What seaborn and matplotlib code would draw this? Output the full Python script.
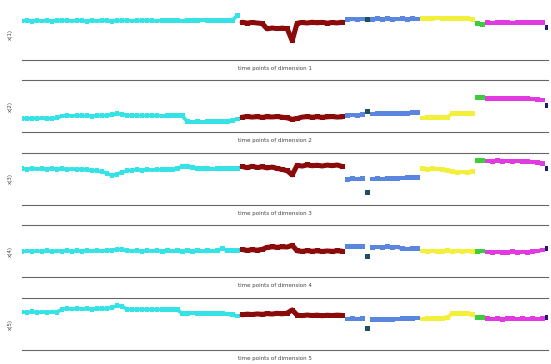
import numpy as np
import pandas as pd
import matplotlib
matplotlib.use("Agg")
import matplotlib.pyplot as plt
import seaborn as sns

# segment of every time point (same split for all five dimensions)
seg_names = ["cyan"] * 44 + ["darkred"] * 21 + ["blue1"] * 4 + ["teal"] + ["blue2"] * 10 \
    + ["yellow"] * 11 + ["green"] * 2 + ["magenta"] * 12 + ["navy"]
seg_colors = {
    "cyan": "#35e3e6", "darkred": "#8b0a0a", "blue1": "#5a86e0", "teal": "#1f4f5a",
    "blue2": "#5a86e0", "yellow": "#f2f03a", "green": "#3ccc3c", "magenta": "#e03ae0",
    "navy": "#1c1a7a",
}

dim1 = [39.0, 39.6, 38.8, 39.4, 39.1, 39.7, 38.9, 39.5, 39.2, 39.6,
        39.0, 39.8, 39.3, 38.9, 39.6, 39.1, 39.7, 39.2, 38.8, 39.5,
        39.3, 39.9, 39.0, 39.6, 39.2, 39.8, 39.4, 39.0, 39.7, 39.3,
        39.9, 39.4, 39.1, 39.8, 39.5, 39.2, 40.0, 39.6, 39.3, 39.9,
        39.5, 39.8, 39.4, 44.5,
        37.8, 36.9, 37.6, 37.0, 36.5, 31.2, 32.0, 31.4, 31.9, 31.3,
        19.5, 36.8, 37.6, 37.0, 37.8, 37.2, 37.7, 36.9, 37.5, 37.1, 37.8,
        40.3, 41.0, 40.5, 41.1,
        40.8,
        40.6, 41.2, 40.8, 41.3, 40.9, 41.0, 41.4, 40.7, 41.2, 41.0,
        41.4, 41.9, 41.5, 42.0, 41.6, 41.8, 41.3, 41.9, 41.6, 41.2, 40.6,
        36.3, 35.8,
        37.6, 37.1, 37.8, 37.3, 37.5, 37.0, 37.7, 37.4, 37.8, 37.2, 37.6, 37.3,
        32.7]

dim2 = [14.2, 13.7, 14.3, 13.9, 14.4, 13.8, 14.1, 14.6,
        16.4, 16.9, 16.5, 17.0, 16.6, 16.8, 16.3, 16.9, 16.7, 17.1, 17.6,
        18.7, 18.2,
        17.2, 16.8, 17.0, 16.6, 17.1, 16.7, 16.9, 16.5, 17.0, 16.8, 16.6, 16.9,
        11.0, 10.5, 10.9, 10.4, 10.8, 10.6, 11.0, 10.7, 11.2, 11.8, 13.5,
        15.3, 15.9, 15.4, 15.8, 15.2, 15.7, 15.5, 15.9, 15.3, 14.6, 13.2,
        14.0, 15.4, 15.8, 15.3, 15.7, 15.2, 15.6, 15.9, 15.4, 15.7,
        17.0, 17.5, 17.2, 17.6,
        21.0,
        18.5, 18.9, 18.6, 19.0, 18.7, 19.1, 18.8, 19.3, 19.8, 20.2,
        14.5, 14.9, 14.6, 15.0, 14.7, 15.3, 18.8, 19.2, 18.9, 19.3, 19.0,
        34.7, 34.9,
        34.2, 33.8, 34.3, 33.9, 34.1, 33.7, 34.0, 33.6, 33.9, 33.4, 33.0, 32.4,
        26.7]

dim3 = [36.3, 35.7, 36.5, 35.9, 36.2, 35.6, 36.4, 35.8, 36.1, 35.5,
        35.9, 35.4, 35.7, 35.0, 34.6, 34.0,
        33.2, 31.5, 29.5, 30.8, 32.6,
        34.2, 34.8, 35.2, 34.7, 35.3, 34.9, 35.4, 35.0, 35.5, 35.8, 36.6,
        38.0, 38.3, 37.5,
        36.4, 36.0, 36.6, 35.9, 36.5, 36.1, 36.7, 36.2, 36.8,
        38.3, 37.2, 38.6, 37.4, 38.1, 37.0, 37.8,
        36.5, 35.4, 34.2, 30.0,
        39.6, 38.8, 40.0, 39.1, 39.7, 38.9, 39.8, 39.2, 39.9, 38.4,
        25.8, 26.3, 25.9, 26.2,
        12.7,
        25.9, 26.3, 26.0, 26.4, 26.1, 26.6, 26.9, 27.4, 27.8, 27.3,
        36.2, 35.8, 36.4, 35.9, 35.6, 34.6, 33.0, 32.6, 32.9, 32.5, 33.2,
        44.3, 44.0,
        43.9, 43.5, 44.0, 43.6, 43.9, 43.4, 43.8, 43.3, 43.6, 42.9, 42.3, 41.2,
        36.0]

dim4 = [26.0, 26.4, 25.9, 26.3, 26.1, 26.5, 26.0, 26.4, 26.2, 26.6,
        26.1, 26.5, 26.2, 26.7, 26.3, 26.6, 26.4, 26.8, 27.2,
        27.9, 27.5, 26.8,
        26.4, 26.7, 26.2, 26.6, 26.3, 26.7, 26.2, 26.5, 26.3, 26.6, 26.1,
        26.5, 26.2, 26.6, 26.3, 26.7, 26.4, 26.8, 28.6, 26.9, 26.5, 27.0,
        27.8, 27.0, 27.6, 27.2, 27.9,
        30.0, 30.5, 30.1, 30.6, 30.3,
        32.0,
        26.5, 26.0, 26.6, 26.1, 26.5, 25.9, 26.4, 26.0, 26.5, 26.2,
        30.7, 31.1, 30.8, 31.0,
        20.8,
        30.0, 30.4, 30.1, 30.5, 30.2, 30.3, 28.7, 28.4, 28.8, 28.5,
        26.4, 26.0, 26.3, 25.9, 26.2, 26.5, 26.1, 26.4, 26.0, 26.3, 26.2,
        26.2, 26.4,
        25.4, 25.0, 25.3, 24.9, 25.2, 25.5, 25.1, 25.4, 25.0, 25.6, 26.3, 27.4,
        28.5]

dim5 = [38.2, 37.8, 38.3, 37.9, 38.1, 37.7, 38.2, 38.0,
        41.0, 41.5, 41.1, 41.6, 41.2, 41.4, 41.0, 41.6, 41.3, 41.7, 42.6,
        44.6, 43.8,
        40.9, 40.5, 41.0, 40.6, 40.9, 40.4, 40.8, 40.5, 40.9, 40.6, 40.3,
        37.0, 36.6, 37.1, 36.7, 36.9, 36.5, 37.0, 36.6, 36.8, 36.2, 35.4, 34.2,
        35.3, 36.0, 35.6, 36.2, 35.8, 36.5, 36.1, 36.8, 36.3, 37.0,
        40.2,
        35.0, 34.5, 35.1, 34.6, 35.0, 34.4, 34.9, 34.6, 35.0, 34.7,
        31.1, 31.5, 31.2, 31.4,
        21.3,
        30.5, 30.9, 30.6, 31.0, 30.7, 31.1, 31.3, 31.6, 31.9, 32.2,
        31.2, 31.6, 31.3, 31.7, 31.4, 32.5, 36.5, 36.9, 36.6, 37.0, 35.8,
        32.3, 32.6,
        31.5, 31.1, 31.4, 31.0, 31.3, 31.6, 31.2, 31.5, 31.1, 31.4, 31.2, 31.6,
        32.3]

dims = [dim1, dim2, dim3, dim4, dim5]
y_names = ["x(1)", "x(2)", "x(3)", "x(4)", "x(5)"]

sns.set_style("white")
plt.rcParams["font.family"] = ["DejaVu Sans"]

fig = plt.figure(figsize=(5.51, 3.64), dpi=100)
bottoms = [0.835, 0.636, 0.437, 0.238, 0.038]

for k, vals in enumerate(dims):
    ax = fig.add_axes([0.040, bottoms[k], 0.955, 0.143])
    df = pd.DataFrame({"t": np.arange(len(vals)), "value": vals, "seg": seg_names})
    sns.lineplot(data=df, x="t", y="value", hue="seg", palette=seg_colors,
                 estimator=None, linewidth=2.6, legend=False, ax=ax)
    sns.scatterplot(data=df, x="t", y="value", hue="seg", palette=seg_colors,
                    s=12, marker="s", linewidth=0, legend=False, ax=ax)
    # thicker band for the noisy red stretch
    red = df[df["seg"] == "darkred"]
    sns.lineplot(data=red, x="t", y="value", color=seg_colors["darkred"],
                 estimator=None, linewidth=3.6, legend=False, ax=ax)
    ax.set_xlim(0, len(vals) - 0.8)
    ax.set_ylim(0, 52)
    ax.set_xticks([])
    ax.set_yticks([])
    for side in ["left", "right"]:
        ax.spines[side].set_visible(False)
    for side in ["top", "bottom"]:
        ax.spines[side].set_color("#666666")
        ax.spines[side].set_linewidth(0.8)
    if k == 0:
        ax.spines["top"].set_visible(False)
    ax.set_xlabel(f"time points of dimension {k + 1}", fontsize=4.0, color="#444444")
    ax.xaxis.set_label_coords(0.481, -0.11)
    ax.set_ylabel(y_names[k], fontsize=4.0, color="#444444")
    ax.yaxis.set_label_coords(-0.018, 0.5)

fig.savefig("out.png", dpi=100)
